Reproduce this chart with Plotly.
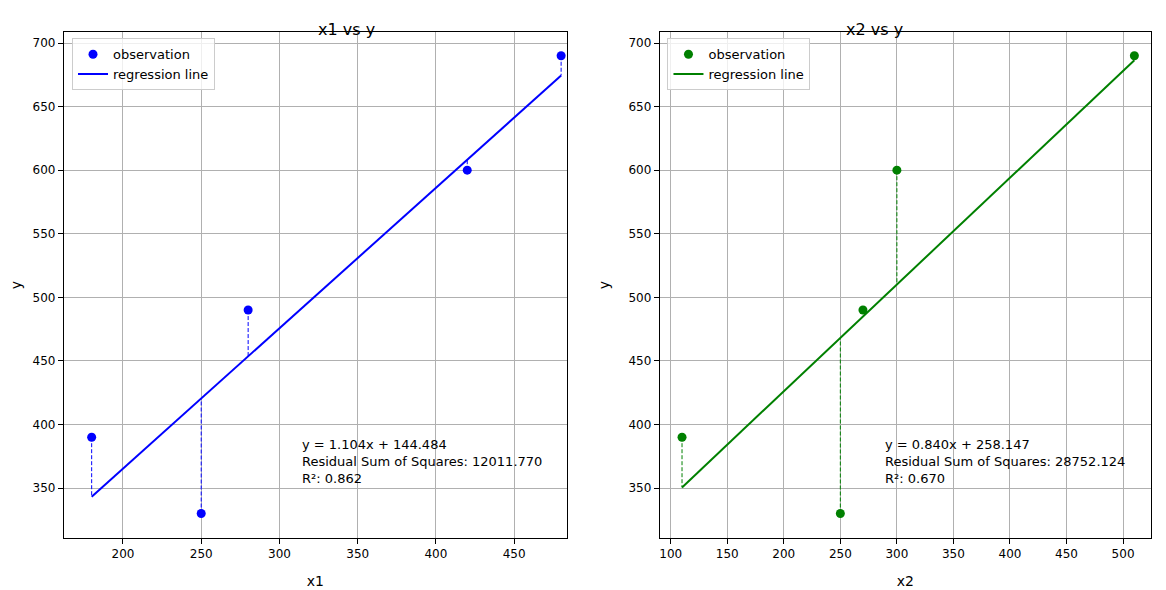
import numpy as np
import plotly.graph_objects as go

x1 = [180, 250, 280, 420, 480]
x2 = [110, 250, 270, 300, 510]
y = [390, 330, 490, 600, 690]

fig = go.Figure()

def add_panel(x, color, xa, ya, legend, label_x):
    x = np.array(x, float)
    yy = np.array(y, float)
    m, b = np.polyfit(x, yy, 1)
    fit = m * x + b
    rss = float(((yy - fit) ** 2).sum())
    r2 = 1 - rss / float(((yy - yy.mean()) ** 2).sum())
    for xi, yi, fi in zip(x, yy, fit):
        fig.add_trace(go.Scatter(x=[xi, xi], y=[yi, fi], mode="lines", xaxis=xa, yaxis=ya,
                                 line=dict(color=color, width=1, dash="4px,2px"), showlegend=False))
    fig.add_trace(go.Scatter(x=x, y=yy, mode="markers", name="observation", xaxis=xa, yaxis=ya,
                             marker=dict(color=color, size=9), legend=legend))
    xs = np.array([x.min(), x.max()])
    fig.add_trace(go.Scatter(x=xs, y=m * xs + b, mode="lines", name="regression line", xaxis=xa, yaxis=ya,
                             line=dict(color=color, width=2), legend=legend))
    fig.add_annotation(x=label_x, y=392, xref=xa, yref=ya, xanchor="left", yanchor="top",
                       align="left", showarrow=False, font=dict(size=13, color="black"),
                       text=f"y = {m:.3f}x + {b:.3f}<br>Residual Sum of Squares: {rss:.3f}<br>R²: {r2:.3f}")

add_panel(x1, "blue", "x", "y", "legend", 313)
add_panel(x2, "green", "x2", "y2", "legend2", 288)

ax = dict(showline=True, linecolor="black", mirror=True, ticks="outside", tickcolor="black",
          showgrid=True, gridcolor="#b0b0b0", zeroline=False, tickfont=dict(size=12, color="black"),
          title_font=dict(size=13, color="black"), title_standoff=6)
fig.update_layout(
    width=1158, height=582, margin=dict(l=0, r=0, t=0, b=0),
    plot_bgcolor="white", paper_bgcolor="white",
    font=dict(family="DejaVu Sans", color="black"),
    xaxis=dict(ax, domain=[0.0449, 0.481], range=[162.2, 483.8], title="x1", dtick=50, anchor="y"),
    yaxis=dict(ax, domain=[0.0893, 0.9588], range=[310.7, 708.7], title="y", dtick=50, anchor="x"),
    xaxis2=dict(ax, domain=[0.5613, 0.987], range=[90.3, 524.7], title="x2", dtick=50, anchor="y2"),
    yaxis2=dict(ax, domain=[0.0893, 0.9588], range=[310.7, 708.7], title="y", dtick=50, anchor="x2"),
    legend=dict(x=0.052, y=0.948, xanchor="left", yanchor="top", bgcolor="rgba(255,255,255,0.8)",
                bordercolor="#ccc", borderwidth=1, font=dict(size=13)),
    legend2=dict(x=0.568, y=0.948, xanchor="left", yanchor="top", bgcolor="rgba(255,255,255,0.8)",
                 bordercolor="#ccc", borderwidth=1, font=dict(size=13)),
    annotations=list(fig.layout.annotations) + [
        dict(text="x1 vs y", x=0.263, y=0.983, xref="paper", yref="paper", showarrow=False, font=dict(size=16)),
        dict(text="x2 vs y", x=0.774, y=0.983, xref="paper", yref="paper", showarrow=False, font=dict(size=16)),
    ],
)
fig.write_html("out.html")
